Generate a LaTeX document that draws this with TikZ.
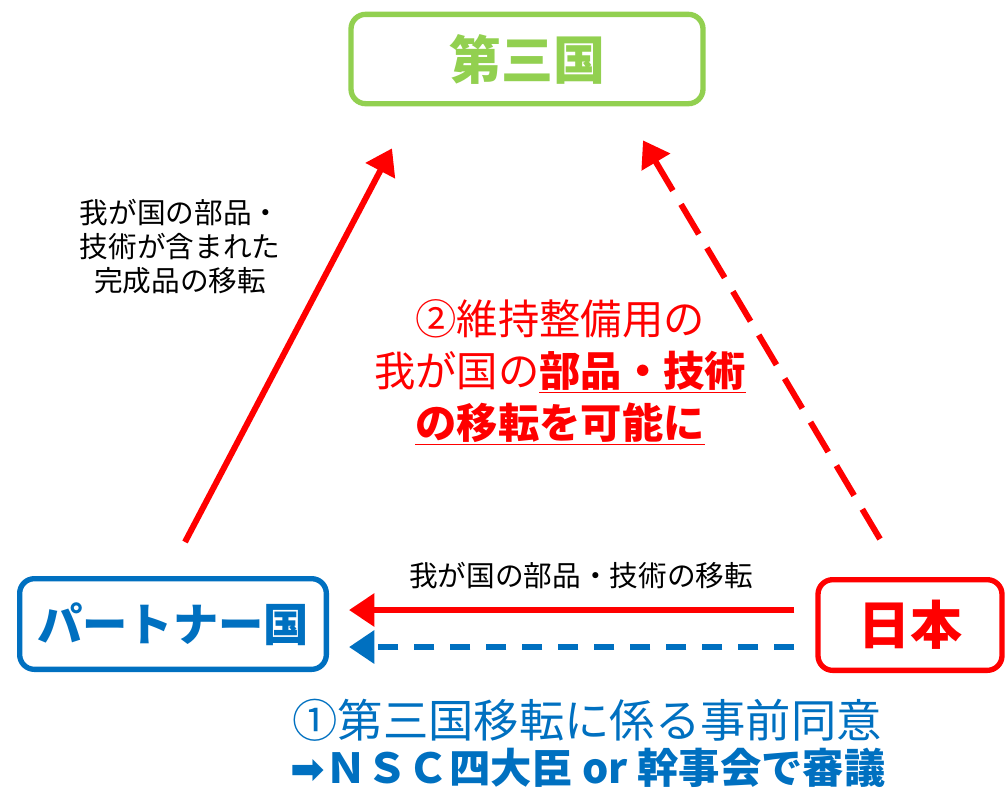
\documentclass[tikz,border=0pt]{standalone}
\usepackage{fontspec}
\setmainfont{Noto Sans CJK JP}
\newfontfamily\symfont{DejaVu Sans}
\usetikzlibrary{arrows.meta,calc}
\definecolor{kgreen}{HTML}{92D050}
\definecolor{kblue}{HTML}{0070C0}
\definecolor{kred}{HTML}{FF0000}

\begin{document}
\begin{tikzpicture}
    [x=0.75pt, y=-0.75pt,
    every node/.style={inner sep=0pt},
    country/.style={draw=#1, text=#1, line width=4pt, rounded corners=11pt, fill=white},
    redarrow/.style={kred, line width=4.5pt, -{Triangle[length=19pt,width=24pt]}},
    bluearrow/.style={kblue, line width=5pt, dash pattern=on 15pt off 12pt, -{Triangle[length=19pt,width=24pt]}},
    reddashed/.style={kred, line width=4.5pt, dash pattern=on 26pt off 12pt, -{Triangle[length=19pt,width=24pt]}},
    note/.style={font=\fontsize{21.5}{25.5}\selectfont, align=center}
    ]
    \useasboundingbox (0,0) rectangle (1006,794);

    % the three countries
    \node (third) [country=kgreen, minimum width=264pt, minimum height=67pt,
        font=\fontsize{39}{44}\selectfont\bfseries] at (527,59) {第三国};
    \node (partner) [country=kblue, minimum width=230pt, minimum height=68pt,
        font=\fontsize{34}{40}\selectfont\bfseries] at (173,624) {パートナー国};
    \node (japan) [country=kred, minimum width=138pt, minimum height=68pt,
        font=\fontsize{39}{44}\selectfont\bfseries] at (910,625) {日本};

    % transfers
    \draw [redarrow] ($(partner.north)+(12,-34)$) -- ($(third.south)+(-135,42)$);
    \draw [reddashed] ($(japan.north)+(-30,-38)$) -- ($(third.south)+(116,34)$);
    \draw [redarrow] ($(japan.west)+(-21,-15)$) -- ($(partner.east)+(20,-14)$);
    \draw [bluearrow] ($(japan.west)+(-21,22)$) -- ($(partner.east)+(20,23)$);

    % labels
    \node (lbl-left) [note] at (180,247) {我が国の部品・\\技術が含まれた\\完成品の移転};
    \node (lbl-mid) [note] at (581,576) {我が国の部品・技術の移転};
    \node (lbl-red) [kred, align=center, font=\fontsize{31}{39}\selectfont] at (560,372)
        {②維持整備用の\\我が国の\underline{\bfseries 部品・技術}\\\underline{\bfseries の移転を可能に}};
    \node (lbl-consent) [kblue, font=\fontsize{34}{40}\selectfont] at (587,720)
        {①第三国移転に係る事前同意};
    \node (lbl-nsc) [kblue, font=\fontsize{31}{36}\selectfont\bfseries] at (588,768)
        {{\symfont ➡}ＮＳＣ四大臣 or 幹事会で審議};
\end{tikzpicture}
\end{document}
